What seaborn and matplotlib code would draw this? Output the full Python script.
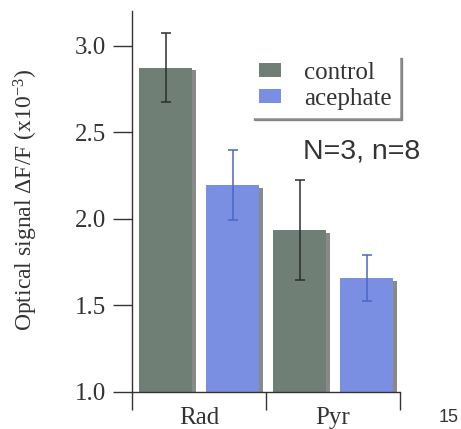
import matplotlib
matplotlib.use("Agg")
import matplotlib.pyplot as plt
import matplotlib.patheffects as pe
from matplotlib.ticker import FixedLocator
import seaborn as sns
import pandas as pd

# ---- data ----
categories = ["Rad", "Pyr"]
groups = ["control", "acephate"]
control_vals = [2.873, 1.935]
acephate_vals = [2.196, 1.659]
control_err = [0.20, 0.29]
acephate_err = [0.20, 0.133]
y_ticks = [1.0, 1.5, 2.0, 2.5, 3.0]
y_tick_labels = ["1.0", "1.5", "2.0", "2.5", "3.0"]

colors = ["#6f7f76", "#7b8fe2"]
err_colors = ["#2a2f2c", "#4a66c8"]

df = pd.DataFrame({
    "region": categories * 2,
    "group": [groups[0]] * 2 + [groups[1]] * 2,
    "value": control_vals + acephate_vals,
})

sns.set_style("white")
plt.rcParams["font.family"] = ["Liberation Serif", "DejaVu Serif"]
plt.rcParams["mathtext.fontset"] = "custom"
plt.rcParams["mathtext.rm"] = "Liberation Serif"
plt.rcParams["mathtext.it"] = "Liberation Serif:italic"

fig = plt.figure(figsize=(4.61, 4.29), dpi=100)
ax = fig.add_axes([132 / 461, 1 - 392 / 429, 268 / 461, 381 / 429])

sns.barplot(data=df, x="region", y="value", hue="group", hue_order=groups,
            palette=colors, width=1.0, gap=0.2, errorbar=None, ax=ax,
            saturation=1.0, linewidth=0)

errs = [control_err, acephate_err]
bar_containers = list(ax.containers)
for gi, cont in enumerate(bar_containers):
    for bi, bar in enumerate(cont):
        bar.set_linewidth(0)
        bar.set_path_effects([
            pe.SimplePatchShadow(offset=(3, -2), shadow_rgbFace="#3a3a3a", alpha=0.6),
            pe.Normal(),
        ])
        xc = bar.get_x() + bar.get_width() / 2
        ax.errorbar(xc, bar.get_height(), yerr=errs[gi][bi], fmt="none",
                    ecolor=err_colors[gi], elinewidth=1.1, capsize=3.5,
                    capthick=1.1, zorder=5)

ax.set_xlim(-0.5, 1.5)
ax.set_ylim(1.0, 3.2)
ax.set_yticks(y_ticks)
ax.set_yticklabels(y_tick_labels)
ax.xaxis.set_minor_locator(FixedLocator([-0.5, 0.5, 1.5]))

for s in ["top", "right"]:
    ax.spines[s].set_visible(False)
for s in ["left", "bottom"]:
    ax.spines[s].set_color("#333333")
    ax.spines[s].set_linewidth(1.0)

ax.tick_params(axis="y", direction="out", length=13.5, width=1.0, color="#333333",
               pad=5.0, labelsize=18, labelcolor="#333333", left=True)
ax.tick_params(axis="x", which="major", length=0, pad=11, labelsize=18,
               labelcolor="#333333")
ax.tick_params(axis="x", which="minor", direction="out", length=13, width=1.0,
               color="#333333", bottom=True)

ax.set_xlabel("")
ax.set_ylabel("Optical signal ΔF/F (x10$^{-3}$)", fontsize=17, color="#333333")
ax.yaxis.set_label_coords(-0.345, 0.504)

handles, labels = ax.get_legend_handles_labels()
ax.legend(handles, labels, loc="upper left", bbox_to_anchor=(0.398, 0.918),
          frameon=True, fancybox=False, edgecolor="white", framealpha=1.0,
          shadow={"color": "#666666", "alpha": 0.7}, fontsize=18,
          handlelength=0.9, handleheight=0.5, handletextpad=0.9,
          labelspacing=0.15, borderpad=0.3, labelcolor="#333333")

ax.text(0.638, 0.63, "N=3, n=8", transform=ax.transAxes, fontsize=20.5,
        family="Liberation Sans", color="#333333", ha="left", va="center")

fig.text(459 / 461, 3 / 429, "15", fontsize=13, family="Liberation Sans",
         color="#333333", ha="right", va="bottom")

fig.savefig("out.png", dpi=100)
